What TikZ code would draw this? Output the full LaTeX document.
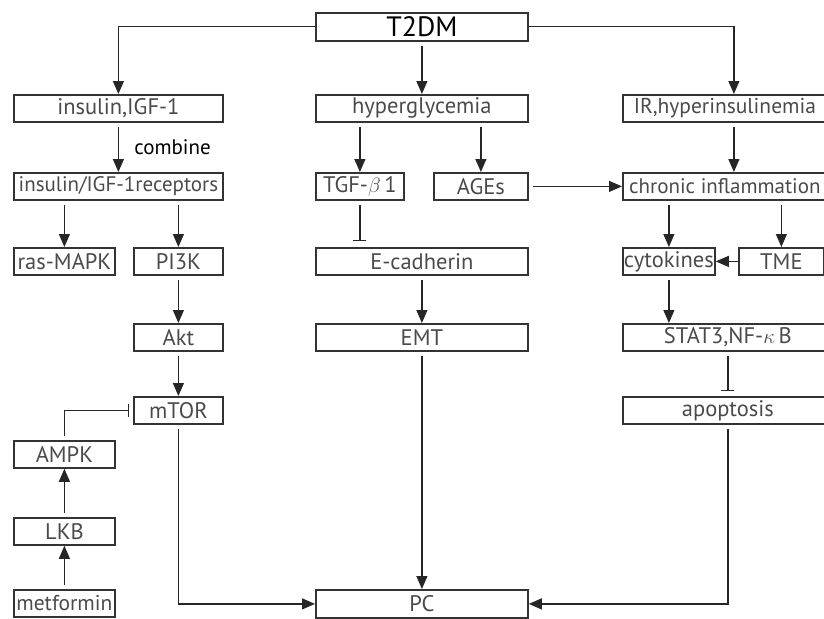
\documentclass[tikz,border=0pt]{standalone}
\usepackage{fontspec}
\setmainfont{PT Sans}
\usepackage{tikz}
\usetikzlibrary{arrows.meta,calc}

\definecolor{boxtext}{HTML}{4A4A4A}
\definecolor{boxline}{HTML}{333333}

\tikzset{
  box/.style={draw=boxline,line width=1.8pt,anchor=north west,inner sep=0pt,
    text=boxtext,font=\fontsize{22.5}{22.5}\selectfont,minimum height=27pt},
  arr/.style={draw=black!85,line width=1.2pt,shorten <=4pt,
    -{Triangle[length=13pt,width=11pt]}},
  inh/.style={draw=black!85,line width=1.2pt,shorten <=4pt,
    -{Bar[width=13pt,line width=1.2pt]}}
}

\begin{document}
\begin{tikzpicture}[x=1pt,y=-1pt]
    \useasboundingbox (0,0) rectangle (824,618);
    \clip (0,0) rectangle (824,618);

    % top
    \node[box,minimum width=212pt,minimum height=28pt,text=black,font=\fontsize{28}{28}\selectfont] (t2dm) at (315,12) {T2DM};

    % first row
    \node[box,minimum width=209pt] (ins) at (13,94) {insulin,IGF-1};
    \node[box,minimum width=212pt] (hyp) at (315,94) {hyperglycemia};
    \node[box,minimum width=204pt,font=\fontsize{21.5}{21.5}\selectfont] (ir) at (622,94) {IR,hyperinsulinemia};

    % second row
    \node[box,minimum width=209pt,font=\fontsize{21}{21}\selectfont] (rec) at (13,172) {insulin/IGF-1receptors};
    \node[box,minimum width=88pt] (tgf) at (315,172) {TGF-$\beta$\,1};
    \node[box,minimum width=94pt] (age) at (433,172) {AGEs};
    \node[box,minimum width=204pt,font=\fontsize{21}{21}\selectfont] (chr) at (622,172) {chronic inflammation};

    % third row
    \node[box,minimum width=101pt] (ras) at (13,247) {ras-MAPK};
    \node[box,minimum width=89pt] (pik) at (133,247) {PI3K};
    \node[box,minimum width=212pt] (ecad) at (315,247) {E-cadherin};
    \node[box,minimum width=92pt] (cyt) at (622,247) {cytokines};
    \node[box,minimum width=85pt] (tme) at (738,247) {TME};

    % fourth row
    \node[box,minimum width=89pt] (akt) at (133,323) {Akt};
    \node[box,minimum width=212pt] (emt) at (315,323) {EMT};
    \node[box,minimum width=210pt] (stat) at (622,323) {STAT3,NF-$\kappa$\,B};

    % fifth row
    \node[box,minimum width=89pt] (mtor) at (133,396) {mTOR};
    \node[box,minimum width=210pt] (apo) at (622,396) {apoptosis};

    % metformin branch
    \node[box,minimum width=101pt] (ampk) at (13,440) {AMPK};
    \node[box,minimum width=101pt] (lkb) at (13,517) {LKB};
    \node[box,minimum width=101pt,font=\fontsize{21.5}{21.5}\selectfont] (met) at (13,589) {metformin};

    % bottom
    \node[box,minimum width=212pt,minimum height=28pt] (pc) at (315,589) {PC};

    % right column feed point
    \coordinate (rx) at ($(ir.north)+(9,0)$);

    % connectors
    \draw[arr,shorten <=0pt] (t2dm.west) -| (ins.north);
    \draw[arr] (t2dm.south) -- (hyp.north);
    \draw[arr,shorten <=0pt] (t2dm.east) -| (rx);

    \draw[arr] (ins.south) -- (ins.south |- rec.north)
      node[midway,right=12pt,text=black,font=\fontsize{21}{21}\selectfont] {combine};
    \draw[arr] (tgf.north |- hyp.south) -- (tgf.north);
    \draw[arr] (age.north |- hyp.south) -- (age.north);
    \draw[arr] (rx |- ir.south) -- (rx |- chr.north);
    \draw[arr] (age.east) -- (chr.west);

    \draw[arr] (ras.north |- rec.south) -- (ras.north);
    \draw[arr] (pik.north |- rec.south) -- (pik.north);
    \draw[inh,shorten >=6pt] (tgf.south) -- (tgf.south |- ecad.north);
    \draw[arr] (cyt.north |- chr.south) -- (cyt.north);
    \draw[arr] (tme.north |- chr.south) -- (tme.north);
    \draw[arr,shorten <=0pt] (tme.west) -- (cyt.east);

    \draw[arr] (pik.south) -- (akt.north);
    \draw[arr] (ecad.south) -- (emt.north);
    \draw[arr] (cyt.south) -- (cyt.south |- stat.north);

    \draw[arr] (akt.south) -- (mtor.north);
    \draw[inh,shorten >=5pt] (stat.south) -- (stat.south |- apo.north);

    % metformin -> LKB -> AMPK -| mTOR
    \draw[arr] (met.north) -- (lkb.south);
    \draw[arr] (lkb.north) -- (ampk.south);
    \draw[inh,shorten >=4pt] (ampk.north) |- (mtor.west);

    % into PC
    \draw[arr] (mtor.south) |- (pc.west);
    \draw[arr] (emt.south) -- (pc.north);
    \draw[arr] (apo.south) |- (pc.east);
\end{tikzpicture}
\end{document}
